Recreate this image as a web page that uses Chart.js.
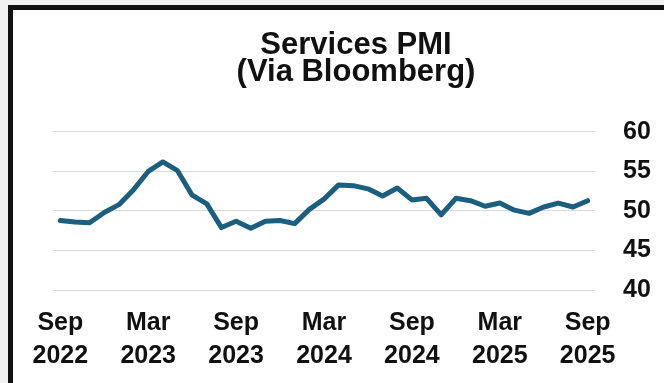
<!DOCTYPE html>
<html>
<head>
<meta charset="utf-8">
<script src="https://cdn.jsdelivr.net/npm/chart.js@4/dist/chart.umd.min.js"></script>
<style>
  html, body { margin: 0; padding: 0; width: 664px; height: 383px; overflow: hidden; background: #f1f1f1; }
  #frame {
    position: absolute; left: 8px; top: 5px; width: 720px; height: 375px;
    background: #ffffff; border-left: 5px solid #111; border-top: 5px solid #111;
    border-bottom: 1px solid #c8c8c8;
  }
  #chart { position: absolute; left: 12px; top: 10px; width: 652px; height: 380px; max-width: none; }
</style>
</head>
<body>
<div id="frame"></div>
<canvas id="chart" width="652" height="380"></canvas>
<script>
// Monthly services PMI readings, Sep 2022 through Sep 2025
const months = [
  "Sep 2022","Oct 2022","Nov 2022","Dec 2022",
  "Jan 2023","Feb 2023","Mar 2023","Apr 2023","May 2023","Jun 2023",
  "Jul 2023","Aug 2023","Sep 2023","Oct 2023","Nov 2023","Dec 2023",
  "Jan 2024","Feb 2024","Mar 2024","Apr 2024","May 2024","Jun 2024",
  "Jul 2024","Aug 2024","Sep 2024","Oct 2024","Nov 2024","Dec 2024",
  "Jan 2025","Feb 2025","Mar 2025","Apr 2025","May 2025","Jun 2025",
  "Jul 2025","Aug 2025","Sep 2025"
];
const pmi = [
  48.8, 48.6, 48.5, 49.8,
  50.8, 52.7, 55.0, 56.2, 55.1, 52.0,
  50.9, 47.9, 48.7, 47.8, 48.7, 48.8,
  48.4, 50.2, 51.5, 53.3, 53.2, 52.8,
  51.9, 52.9, 51.4, 51.6, 49.5, 51.6,
  51.3, 50.6, 51.0, 50.1, 49.7, 50.5,
  51.0, 50.5, 51.3
];
const yTicks = [40, 45, 50, 55, 60];
const titleLines = ["Services PMI", "(Via Bloomberg)"];

const FONT = "'Liberation Sans', Arial, sans-serif";

new Chart(document.getElementById("chart"), {
  type: "line",
  data: {
    labels: months,
    datasets: [{
      data: pmi,
      borderColor: "#1b5e7f",
      borderWidth: 5,
      pointRadius: 0,
      tension: 0,
      borderJoinStyle: "round",
      borderCapStyle: "round",
      fill: false
    }]
  },
  options: {
    responsive: false,
    animation: false,
    layout: { padding: { left: 41, right: 5, top: 0, bottom: 0 } },
    plugins: {
      legend: { display: false },
      tooltip: { enabled: false },
      title: {
        display: true,
        text: titleLines,
        color: "#111",
        font: { family: FONT, size: 31, weight: "bold", lineHeight: 0.87 },
        padding: { top: 22, bottom: 46 }
      }
    },
    scales: {
      x: {
        offset: true,
        grid: { display: false, drawTicks: false },
        border: { display: false },
        ticks: {
          autoSkip: false,
          maxRotation: 0,
          minRotation: 0,
          padding: 17,
          color: "#111",
          font: { family: FONT, size: 25, weight: "bold", lineHeight: 1.32 },
          callback: function (v, i) {
            return i % 6 === 0 ? months[i].split(" ") : "";
          }
        }
      },
      y: {
        position: "right",
        min: yTicks[0],
        max: yTicks[yTicks.length - 1],
        afterBuildTicks: function (axis) {
          axis.ticks = yTicks.map(function (v) { return { value: v }; });
        },
        afterFit: function (axis) { axis.width = 64; },
        grid: { color: "#d9d9d9", lineWidth: 1, drawTicks: false },
        border: { display: false },
        ticks: {
          padding: 28,
          color: "#111",
          font: { family: FONT, size: 25, weight: "bold" }
        }
      }
    }
  }
});
</script>
</body>
</html>
